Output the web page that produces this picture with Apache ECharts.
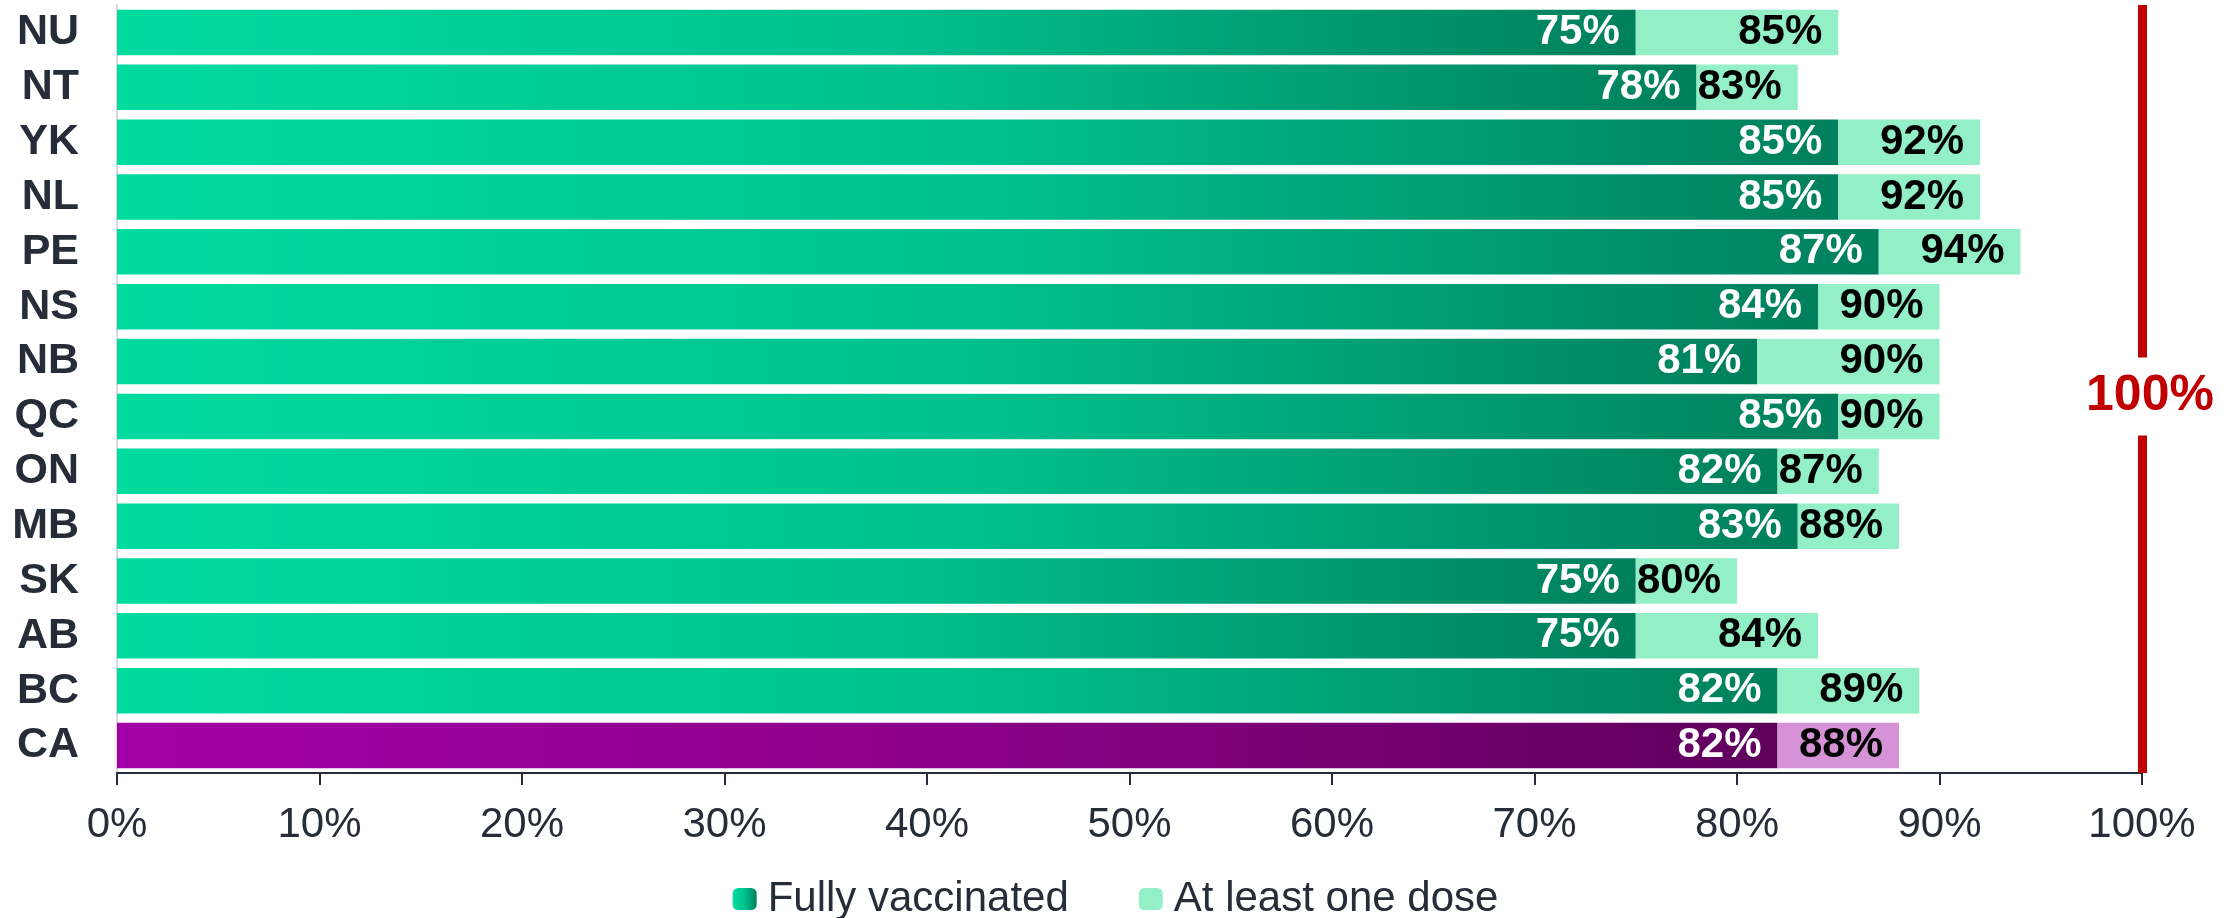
<!DOCTYPE html>
<html>
<head>
<meta charset="utf-8">
<script src="https://cdn.jsdelivr.net/npm/echarts@6/dist/echarts.min.js"></script>
<style>
  html, body { margin: 0; padding: 0; background: #fff; }
  #chart { width: 2231px; height: 918px; }
</style>
</head>
<body>
<div id="chart"></div>
<script>
// categories, bottom to top (ECharts draws the first category at the bottom)
const regions = ['CA', 'BC', 'AB', 'SK', 'MB', 'ON', 'QC', 'NB', 'NS', 'PE', 'NL', 'YK', 'NT', 'NU'];
const fullyVaccinated = [82, 82, 75, 75, 83, 82, 85, 81, 84, 87, 85, 85, 78, 75];
const atLeastOneDose = [88, 89, 84, 80, 88, 87, 90, 90, 90, 94, 92, 92, 83, 85];
const xTicks = [0, 10, 20, 30, 40, 50, 60, 70, 80, 90, 100];
const targetValue = 100;

const TEXT = '#262D38';
const FONT = 'Liberation Sans, Arial, sans-serif';

const grad = (stops) => new echarts.graphic.LinearGradient(0, 0, 1, 0,
  stops.map((c, i) => ({ offset: i / (stops.length - 1), color: c })));

const greenDark = grad(['#00DBA0', '#00C28E', '#007F5C']);
const purpleDark = grad(['#A400A8', '#8C0088', '#5F005C']);
const greenLight = '#92EFC6';
const purpleLight = '#D592D7';

// stacked remainder: first-dose share on top of fully vaccinated
const extraDose = atLeastOneDose.map((v, i) => v - fullyVaccinated[i]);

const labelBase = {
  show: true,
  position: 'insideRight',
  distance: 16,
  fontFamily: FONT,
  fontWeight: 'bold',
  fontSize: 42
};

const chart = echarts.init(document.getElementById('chart'));
chart.setOption({
  animation: false,
  textStyle: { fontFamily: FONT },
  grid: { left: 117, right: 89, top: 5, bottom: 145, containLabel: false },
  legend: {
    top: 873,
    left: 'center',
    itemWidth: 24,
    itemHeight: 22,
    itemGap: 70,
    textStyle: { fontSize: 42, color: TEXT, fontFamily: FONT, padding: [0, 0, 0, 6] },
    data: ['Fully vaccinated', 'At least one dose']
  },
  xAxis: {
    type: 'value',
    min: xTicks[0],
    max: xTicks[xTicks.length - 1],
    interval: 10,
    splitLine: { show: false },
    axisLine: { show: true, lineStyle: { color: TEXT, width: 2 } },
    axisTick: { show: true, length: 12, lineStyle: { color: TEXT, width: 2 } },
    axisLabel: { formatter: '{value}%', fontSize: 42, color: TEXT, margin: 31, fontFamily: FONT }
  },
  yAxis: {
    type: 'category',
    data: regions,
    axisLine: { show: true, lineStyle: { color: '#D9D9D9', width: 2 } },
    axisTick: { show: false },
    axisLabel: { interval: 0, fontSize: 43, fontWeight: 'bold', color: TEXT, margin: 38, fontFamily: FONT }
  },
  series: [
    {
      name: 'Fully vaccinated',
      type: 'bar',
      stack: 'total',
      barCategoryGap: '17%',
      itemStyle: { color: greenDark },
      label: Object.assign({}, labelBase, { color: '#fff', formatter: (p) => p.value + '%' }),
      data: fullyVaccinated.map((v, i) => regions[i] === 'CA'
        ? { value: v, itemStyle: { color: purpleDark } }
        : v),
      markLine: {
        silent: true,
        symbol: 'none',
        label: { show: false },
        lineStyle: { color: '#C00000', width: 9, type: 'solid' },
        data: [{ xAxis: targetValue }]
      }
    },
    {
      name: 'At least one dose',
      type: 'bar',
      stack: 'total',
      z: 3,
      itemStyle: { color: greenLight },
      label: Object.assign({}, labelBase, {
        color: '#000',
        formatter: (p) => atLeastOneDose[p.dataIndex] + '%'
      }),
      data: extraDose.map((v, i) => regions[i] === 'CA'
        ? { value: v, itemStyle: { color: purpleLight } }
        : v),
      markPoint: {
        silent: true,
        symbol: 'rect',
        symbolSize: 0,
        z: 10,
        label: {
          show: true,
          position: 'inside',
          offset: [8, -20],
          formatter: targetValue + '%',
          color: '#C00000',
          fontSize: 50,
          fontWeight: 'bold',
          fontFamily: FONT,
          backgroundColor: '#fff',
          padding: [14, 4]
        },
        data: [{ coord: [targetValue, 'QC'] }]
      }
    }
  ]
});
</script>
</body>
</html>
